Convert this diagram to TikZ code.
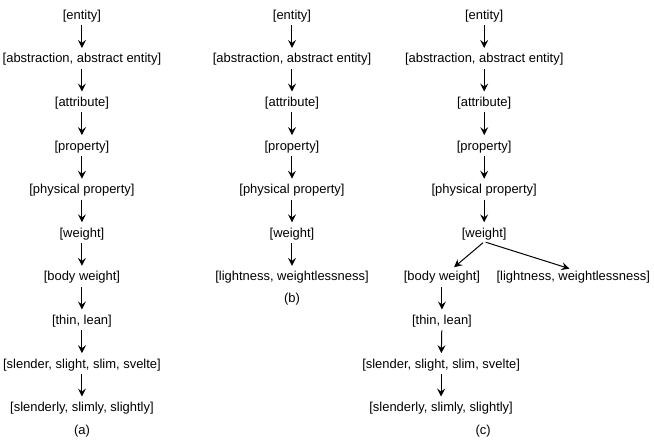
\documentclass[tikz,border=0pt]{standalone}
\usepackage{fontspec}
\setmainfont{Liberation Sans}
\usetikzlibrary{arrows.meta,positioning}

\begin{document}
\begin{tikzpicture}[>={Stealth[length=8pt,width=8pt,inset=3pt]},line width=1pt,
  font=\fontsize{13}{15}\selectfont,
  synset/.style={inner sep=1pt,text height=9.5pt,text depth=3pt},
  every path/.append style={shorten <=1.5pt,shorten >=4pt}]
  \useasboundingbox (0,0) rectangle (23.07,-15.59);
  % the shared hypernym path, once per column
  \foreach \col/\xc in {a/2.89,b/10.30,c/17.08} {
    \foreach \word [count=\i from 0] in {{[entity]},{[abstraction, abstract entity]},{[attribute]},{[property]},{[physical property]},{[weight]}}
      \node[synset] (\col\i) at (\xc,{-0.565-1.538*\i}) {\word};
    \foreach \i [count=\j from 1] in {0,...,4}
      \draw[->] (\col\i) -- (\col\j);
  }
  % (a) down to the adverbs
  \node[synset] (a6) at (2.89,-9.79) {[body weight]};
  \node[synset] (a7) at (2.89,-11.33) {[thin, lean]};
  \node[synset] (a8) at (2.89,-12.87) {[slender, slight, slim, svelte]};
  \node[synset] (a9) at (2.89,-14.40) {[slenderly, slimly, slightly]};
  \foreach \i [count=\j from 6] in {5,...,8}
    \draw[->] (a\i) -- (a\j);
  \node (capa) at (2.89,-15.21) {(a)};
  % (b) the antonym branch
  \node[synset] (b6) at (10.30,-9.79) {[lightness, weightlessness]};
  \draw[->] (b5) -- (b6);
  \node (capb) at (10.30,-10.55) {(b)};
  % (c) both branches below [weight]
  \node[synset] (c6) at (15.59,-9.79) {[body weight]};
  \node[synset] (c6b) at (20.22,-9.79) {[lightness, weightlessness]};
  \node[synset] (c7) at (15.59,-11.33) {[thin, lean]};
  \node[synset] (c8) at (15.56,-12.87) {[slender, slight, slim, svelte]};
  \node[synset] (c9) at (15.56,-14.40) {[slenderly, slimly, slightly]};
  \draw[->] (c5.south) -- (c6);
  \draw[->] (c5.south) -- (c6b.north);
  \draw[->] (c6) -- (c7);
  \draw[->] (c7) -- (c8);
  \draw[->] (c8) -- (c9);
  \node (capc) at (17.04,-15.21) {(c)};
\end{tikzpicture}
\end{document}
